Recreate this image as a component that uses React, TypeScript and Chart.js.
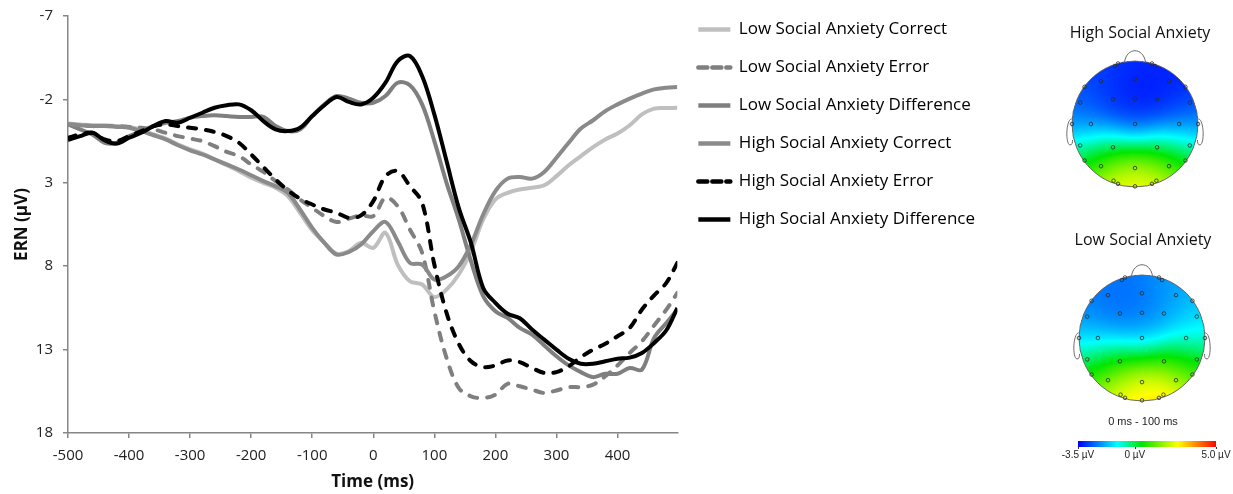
import React, { useEffect, useRef } from "react";
import { Chart, registerables } from "chart.js";
Chart.register(...registerables);

// ---------- DATA ----------
const timesMs = [
  -500, -480, -460, -440, -420, -400, -380, -360, -340, -320,
  -300, -280, -260, -240, -220, -200, -180, -160, -140, -120,
  -100, -80, -60, -40, -20, 0, 20, 40, 60, 80,
  100, 120, 140, 160, 180, 200, 220, 240, 260, 280,
  300, 320, 340, 360, 380, 400, 420, 440, 460, 480, 498,
];

const lowCorrect = [
  -0.55, -0.5, -0.45, -0.45, -0.4, -0.35, -0.2, 0.1, 0.35, 0.7,
  1.0, 1.25, 1.6, 1.95, 2.3, 2.7, 3.0, 3.3, 3.8, 4.8,
  5.85, 6.6, 7.25, 7.1, 6.6, 6.9, 6.0, 7.9, 8.9, 9.1,
  9.85, 9.4, 8.5, 7.1, 5.2, 4.0, 3.6, 3.4, 3.3, 3.15,
  2.6, 1.95, 1.4, 0.86, 0.4, 0.05, -0.45, -1.1, -1.45, -1.48, -1.5,
];

const lowError = [
  -0.5, -0.45, -0.4, -0.4, -0.4, -0.35, -0.3, -0.2, 0.0, 0.2,
  0.35, 0.5, 0.8, 1.15, 1.4, 1.9, 2.35, 2.9, 3.4, 4.0,
  4.5, 5.0, 5.35, 5.15, 4.95, 5.0, 3.9, 4.4, 5.8, 7.2,
  10.7, 13.5, 15.3, 15.8, 15.9, 15.7, 15.05, 15.2, 15.4, 15.6,
  15.45, 15.25, 15.25, 15.1, 14.6, 13.95, 13.2, 12.5, 11.55, 10.6, 9.6,
];

const lowDifference = [
  -0.5, -0.2, 0.1, 0.6, 0.6, 0.2, -0.1, -0.4, -0.6, -0.7,
  -0.9, -1.0, -1.05, -1.0, -0.95, -0.95, -0.95, -0.4, -0.1, -0.2,
  -1.0, -1.7, -2.2, -2.05, -1.8, -1.8, -2.2, -3.0, -2.85, -1.7,
  0.5, 3.0, 5.2, 7.7, 9.8, 10.7, 11.1, 11.7, 12.1, 12.75,
  13.4, 13.95, 14.35, 14.65, 14.45, 14.45, 14.1, 14.2, 12.3, 11.4, 10.6,
];

const highCorrect = [
  -0.5, -0.45, -0.4, -0.4, -0.35, -0.3, -0.1, 0.15, 0.4, 0.75,
  1.05, 1.3, 1.6, 1.9, 2.2, 2.55, 2.9, 3.2, 3.6, 4.6,
  5.7, 6.6, 7.3, 7.15, 6.7, 5.9, 5.35, 6.5, 7.8, 7.9,
  8.8, 8.6, 8.0, 6.7, 4.9, 3.5, 2.75, 2.65, 2.75, 2.35,
  1.5, 0.6, -0.25, -0.75, -1.3, -1.7, -2.05, -2.35, -2.6, -2.7, -2.75,
];

const highError = [
  0.3, 0.1, 0.0, 0.4, 0.5, 0.2, -0.1, -0.4, -0.5, -0.4,
  -0.3, -0.2, -0.05, 0.2, 0.6, 1.3, 2.06, 2.8, 3.45, 3.95,
  4.3, 4.6, 4.8, 5.1, 4.95, 4.1, 2.6, 2.3, 3.2, 4.2,
  7.9, 10.8, 12.65, 13.7, 14.05, 13.95, 13.65, 13.75, 14.1, 14.4,
  14.35, 14.0, 13.45, 13.0, 12.65, 12.2, 11.7, 10.6, 9.75, 9.0, 7.8,
];

const highDifference = [
  0.44, 0.2, 0.0, 0.45, 0.65, 0.3, 0.0, -0.4, -0.7, -0.6,
  -0.9, -1.2, -1.5, -1.65, -1.7, -1.35, -0.7, -0.2, -0.1, -0.3,
  -1.0, -1.65, -2.14, -1.85, -1.7, -2.1, -3.0, -4.3, -4.6, -3.4,
  -1.1, 1.7, 4.5, 6.6, 9.3, 10.2, 10.85, 11.12, 11.8, 12.4,
  13.0, 13.55, 13.85, 13.85, 13.7, 13.55, 13.48, 13.2, 12.6, 11.84, 10.5,
];

const seriesLabels = [
  "Low Social Anxiety Correct",
  "Low Social Anxiety Error",
  "Low Social Anxiety Difference",
  "High Social Anxiety Correct",
  "High Social Anxiety Error",
  "High Social Anxiety Difference",
];

const xTickValues = [-500, -400, -300, -200, -100, 0, 100, 200, 300, 400];
const yTickValues = [-7, -2, 3, 8, 13, 18];

// Topographic maps: electrode positions (normalised head coords) and amplitudes (µV)
const electrodePositions: [number, number][] = [
  [-0.32, -0.92], [0.32, -0.92], [-0.27, -0.96], [0.27, -0.96],
  [-0.54, -0.68], [0, -0.71], [0.54, -0.68],
  [-0.8, -0.59], [0.8, -0.59],
  [-0.87, -0.34], [-0.35, -0.39], [0, -0.4], [0.35, -0.39], [0.87, -0.34],
  [-1.0, 0], [-0.7, 0], [0, 0], [0.7, 0], [1.0, 0],
  [-0.87, 0.34], [-0.35, 0.37], [0.35, 0.37], [0.87, 0.34],
  [-0.8, 0.58], [0.8, 0.58],
  [-0.54, 0.67], [0, 0.7], [0.54, 0.67],
  [-0.34, 0.9], [-0.27, 0.95], [0.34, 0.9], [0.27, 0.95],
  [0, 0.99],
];

const highAnxietyMap = [
  -2.9, -3.1, -3.0, -3.1,
  -3.0, -3.4, -3.3,
  -2.7, -3.1,
  -2.6, -3.1, -3.3, -3.2, -2.8,
  -2.3, -2.5, -2.6, -2.6, -2.3,
  -0.6, -0.7, -0.7, -0.6,
  0.6, 0.6,
  0.8, 0.7, 0.9,
  2.6, 2.9, 2.6, 2.9,
  3.2,
];

const lowAnxietyMap = [
  -2.4, -2.0, -2.4, -2.1,
  -2.5, -2.7, -2.0,
  -2.3, -1.7,
  -2.3, -2.5, -2.4, -2.0, -1.5,
  -1.6, -1.6, -1.4, -1.1, -1.0,
  -0.1, 0.0, 0.2, 0.3,
  0.9, 1.2,
  1.2, 1.5, 1.8,
  2.8, 3.0, 3.4, 3.3,
  3.2,
];

const colorScaleMin = -3.5;
const colorScaleMax = 5.0;
const colorScaleLabels = ["-3.5 µV", "0 µV", "5.0 µV"];
const colorScaleLabelValues = [-3.5, 0, 5.0];
const mapTitles = ["High Social Anxiety", "Low Social Anxiety"];
const mapWindowLabel = "0 ms - 100 ms";

// ---------- STYLE ----------
const FONT = '"Open Sans", sans-serif';
const seriesStyles = [
  { color: "#bfbfbf", dash: [] as number[], order: 5 },
  { color: "#7f7f7f", dash: [8, 10], order: 4 },
  { color: "#7f7f7f", dash: [] as number[], order: 3 },
  { color: "#8a8a8a", dash: [] as number[], order: 2 },
  { color: "#000000", dash: [8, 10], order: 1 },
  { color: "#000000", dash: [] as number[], order: 0 },
];
const seriesValues = [lowCorrect, lowError, lowDifference, highCorrect, highError, highDifference];

const colorStops: [number, number, number, number][] = [
  [0, 0, 0, 255],
  [0.28, 0, 255, 255],
  [0.46, 0, 230, 0],
  [0.72, 255, 255, 0],
  [1, 255, 0, 0],
];

function mapColor(v: number): [number, number, number] {
  let t = (v - colorScaleMin) / (colorScaleMax - colorScaleMin);
  t = Math.max(0, Math.min(1, t));
  for (let i = 1; i < colorStops.length; i++) {
    const a = colorStops[i - 1];
    const b = colorStops[i];
    if (t <= b[0]) {
      const f = (t - a[0]) / (b[0] - a[0]);
      return [a[1] + (b[1] - a[1]) * f, a[2] + (b[2] - a[2]) * f, a[3] + (b[3] - a[3]) * f];
    }
  }
  const l = colorStops[colorStops.length - 1];
  return [l[1], l[2], l[3]];
}

function drawHead(ctx: CanvasRenderingContext2D, cx: number, cy: number, r: number, values: number[]) {
  const size = Math.ceil(2 * r) + 2;
  const off = document.createElement("canvas");
  off.width = size;
  off.height = size;
  const octx = off.getContext("2d")!;
  const img = octx.createImageData(size, size);
  const sigma2 = 2 * 0.3 * 0.3;
  for (let py = 0; py < size; py++) {
    for (let px = 0; px < size; px++) {
      const nx = (px + 0.5 - size / 2) / r;
      const ny = (py + 0.5 - size / 2) / r;
      const d2 = nx * nx + ny * ny;
      if (d2 > 1) continue;
      let sw = 0;
      let sv = 0;
      for (let k = 0; k < electrodePositions.length; k++) {
        const dx = nx - electrodePositions[k][0];
        const dy = ny - electrodePositions[k][1];
        const w = Math.exp(-(dx * dx + dy * dy) / sigma2);
        sw += w;
        sv += w * values[k];
      }
      const c = mapColor(sv / sw);
      const idx = (py * size + px) * 4;
      img.data[idx] = c[0];
      img.data[idx + 1] = c[1];
      img.data[idx + 2] = c[2];
      img.data[idx + 3] = 255;
    }
  }
  octx.putImageData(img, 0, 0);
  ctx.drawImage(off, cx - size / 2, cy - size / 2);

  ctx.save();
  ctx.strokeStyle = "#6a6a6a";
  ctx.lineWidth = 1;
  ctx.beginPath();
  ctx.arc(cx, cy, r, 0, Math.PI * 2);
  ctx.stroke();
  const nw = 10.5;
  const ny0 = cy - Math.sqrt(r * r - nw * nw);
  ctx.beginPath();
  ctx.moveTo(cx - nw, ny0);
  ctx.bezierCurveTo(cx - 8, cy - r - 14, cx + 8, cy - r - 14, cx + nw, ny0);
  ctx.stroke();
  for (const s of [-1, 1]) {
    ctx.beginPath();
    ctx.moveTo(cx + s * (r - 0.5), cy - 5);
    ctx.bezierCurveTo(cx + s * (r + 6), cy - 7, cx + s * (r + 7), cy + 20, cx + s * (r + 2), cy + 21);
    ctx.bezierCurveTo(cx + s * (r - 0.5), cy + 21, cx + s * (r - 0.5), cy + 18, cx + s * (r - 0.5), cy + 16);
    ctx.stroke();
  }
  ctx.strokeStyle = "#2b2b2b";
  ctx.lineWidth = 0.8;
  for (const [ex, ey] of electrodePositions) {
    ctx.beginPath();
    ctx.arc(cx + ex * r, cy + ey * r, 1.8, 0, Math.PI * 2);
    ctx.stroke();
  }
  ctx.restore();
}

const topoPlugin = {
  id: "topoMaps",
  afterDraw(chart: any) {
    const ctx: CanvasRenderingContext2D = chart.ctx;
    ctx.save();
    ctx.fillStyle = "#111";
    ctx.textAlign = "center";
    ctx.textBaseline = "middle";
    ctx.font = `16px ${FONT}`;
    ctx.fillText(mapTitles[0], 1140, 33);
    ctx.fillText(mapTitles[1], 1143, 240);
    drawHead(ctx, 1135, 124, 63, highAnxietyMap);
    drawHead(ctx, 1142, 338, 63, lowAnxietyMap);

    ctx.fillStyle = "#222";
    ctx.font = `11px "Liberation Sans", Arial, sans-serif`;
    ctx.fillText(mapWindowLabel, 1143, 422);

    const bx0 = 1078;
    const bx1 = 1216;
    for (let x = bx0; x < bx1; x++) {
      const v = colorScaleMin + ((x - bx0) / (bx1 - bx0)) * (colorScaleMax - colorScaleMin);
      const c = mapColor(v);
      ctx.fillStyle = `rgb(${c[0] | 0},${c[1] | 0},${c[2] | 0})`;
      ctx.fillRect(x, 441, 1, 6);
    }
    ctx.strokeStyle = "#333";
    ctx.lineWidth = 1;
    ctx.fillStyle = "#222";
    ctx.font = `10px "Liberation Sans", Arial, sans-serif`;
    colorScaleLabelValues.forEach((v, i) => {
      const x = bx0 + ((v - colorScaleMin) / (colorScaleMax - colorScaleMin)) * (bx1 - bx0);
      ctx.beginPath();
      ctx.moveTo(Math.round(x) + 0.5, 447);
      ctx.lineTo(Math.round(x) + 0.5, 449);
      ctx.stroke();
      ctx.fillText(colorScaleLabels[i], x, 455);
    });
    ctx.restore();
  },
};

export default function App() {
  const ref = useRef<HTMLCanvasElement>(null);
  useEffect(() => {
    const datasets = seriesLabels.map((label, i) => ({
      label,
      data: timesMs.map((t, j) => ({ x: t, y: seriesValues[i][j] })),
      borderColor: seriesStyles[i].color,
      backgroundColor: seriesStyles[i].color,
      borderDash: seriesStyles[i].dash,
      borderWidth: 4,
      borderCapStyle: seriesStyles[i].dash.length ? "round" : "butt",
      pointRadius: 0,
      tension: 0.35,
      order: seriesStyles[i].order,
    }));
    const chart = new Chart(ref.current!, {
      type: "line",
      data: { datasets: datasets as any },
      plugins: [topoPlugin],
      options: {
        animation: false,
        responsive: false,
        events: [],
        layout: { padding: { left: 0, right: 248, top: 0, bottom: 2 } },
        plugins: {
          tooltip: { enabled: false },
          legend: {
            position: "right",
            align: "start",
            maxWidth: 340,
            labels: {
              usePointStyle: true,
              pointStyle: "line",
              pointStyleWidth: 32,
              padding: 21,
              color: "#000",
              font: { family: FONT, size: 17 },
              sort: (a: any, b: any) => a.datasetIndex - b.datasetIndex,
              generateLabels: (ch: any) => {
                const items = (Chart.defaults.plugins.legend.labels as any).generateLabels(ch);
                items.forEach((it: any) => {
                  const st = seriesStyles[it.datasetIndex];
                  it.lineDash = st.dash.length ? [9, 5] : [];
                  it.lineWidth = 4.5;
                  it.strokeStyle = st.color;
                  it.lineCap = st.dash.length ? "round" : "butt";
                });
                return items;
              },
            },
          },
        },
        scales: {
          x: {
            type: "linear",
            min: -500,
            max: 498,
            afterBuildTicks: (s: any) => {
              s.ticks = xTickValues.map((v) => ({ value: v }));
            },
            afterFit: (s: any) => {
              s.height = 59;
            },
            ticks: { padding: 9, color: "#222", font: { family: FONT, size: 15 }, maxRotation: 0, includeBounds: false },
            grid: { drawOnChartArea: false, drawTicks: true, tickLength: 5, color: "#868686", lineWidth: 1.5 },
            border: { color: "#868686", width: 1.5 },
            title: {
              display: true,
              text: "Time (ms)",
              color: "#111",
              font: { family: FONT, size: 17, weight: "bold" },
              padding: { top: 0, bottom: 0 },
            },
          },
          y: {
            type: "linear",
            reverse: true,
            min: -7,
            max: 18,
            afterBuildTicks: (s: any) => {
              s.ticks = yTickValues.map((v) => ({ value: v }));
            },
            afterFit: (s: any) => {
              s.width = 68;
            },
            ticks: { padding: 10, color: "#222", font: { family: FONT, size: 15, lineHeight: 0.8 } },
            grid: { drawOnChartArea: false, drawTicks: true, tickLength: 5, color: "#868686", lineWidth: 1.5 },
            border: { color: "#868686", width: 1.5 },
            title: {
              display: true,
              text: "ERN (µV)",
              color: "#111",
              font: { family: FONT, size: 17, weight: "bold" },
              padding: { top: 12, bottom: 0 },
            },
          },
        },
      } as any,
    });
    return () => chart.destroy();
  }, []);
  return (
    <div style={{ position: "absolute", left: 0, top: 0, width: 1233, height: 494, background: "#fff" }}>
      <canvas ref={ref} width={1233} height={494} style={{ display: "block" }} />
    </div>
  );
}
